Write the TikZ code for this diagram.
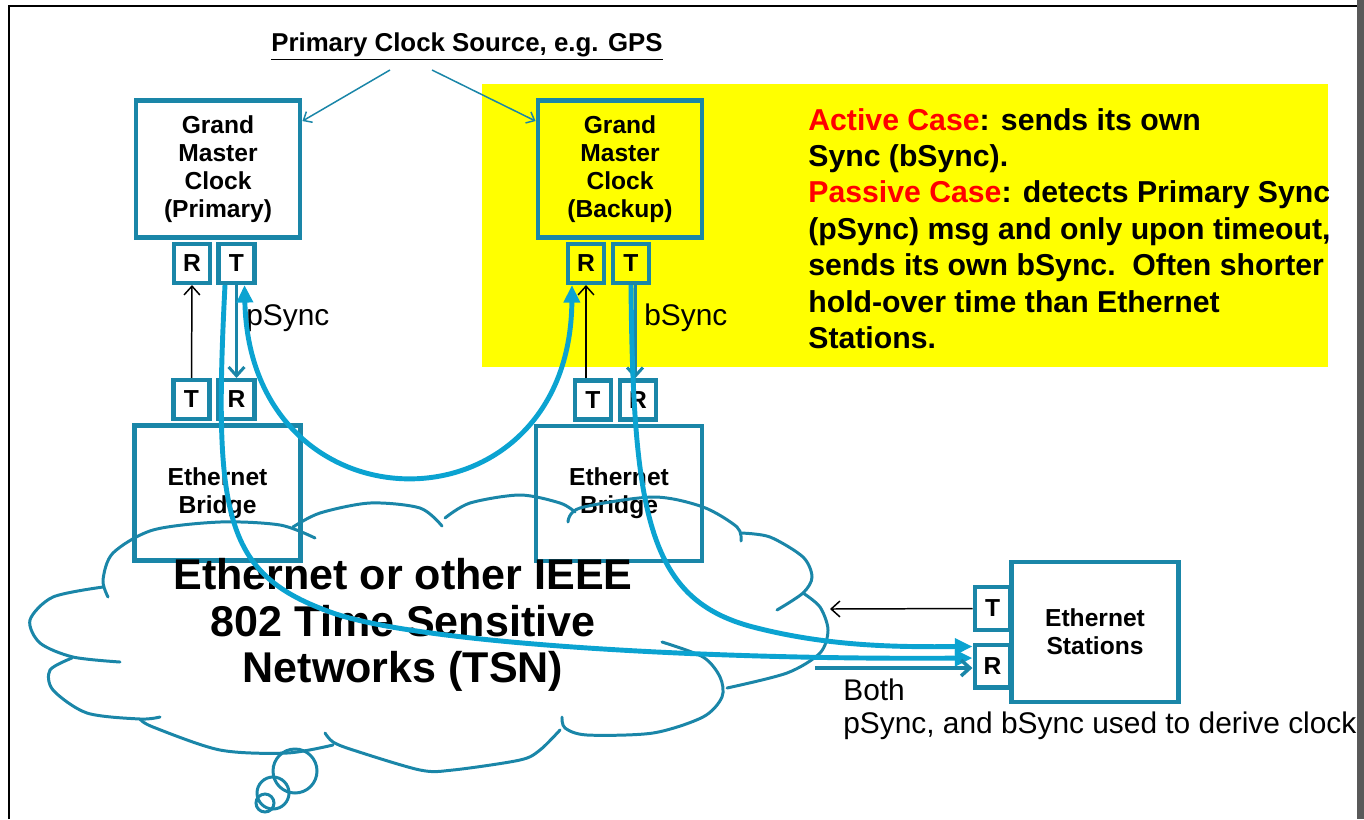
\documentclass[tikz,border=0pt]{standalone}
\usepackage{fontspec}
\setmainfont{Liberation Sans}
\usepackage{tikz}
\usetikzlibrary{arrows.meta,positioning}
\definecolor{BoxTeal}{HTML}{1A86A8}
\definecolor{SyncCyan}{HTML}{0BA3D1}
\definecolor{NoteYellow}{HTML}{FFFF00}

\tikzset{
  box/.style={draw=BoxTeal, line width=2.8pt, align=center, inner sep=0pt,
    font=\bfseries\fontsize{14}{15.8}\selectfont},
  port/.style={draw=BoxTeal, line width=2.3pt, minimum width=0.72cm, minimum height=0.78cm,
    inner sep=0pt, font=\bfseries\fontsize{14}{16}\selectfont},
  sync/.style={draw=SyncCyan, line width=2.8pt, -{Triangle[length=10pt,width=9pt]}},
  syncboth/.style={sync, {Triangle[length=10pt,width=9pt]}-{Triangle[length=10pt,width=9pt]}},
  tealarrow/.style={draw=BoxTeal, line width=1.7pt, -{Straight Barb[length=5pt,width=9pt]}},
  thinarrow/.style={draw=BoxTeal, line width=0.85pt, -{Straight Barb[length=4pt,width=7pt]}},
  blackarrow/.style={draw=black, line width=0.85pt, -{Straight Barb[length=5pt,width=9pt]}},
  cloudline/.style={draw=BoxTeal, line width=1.7pt, line cap=round},
}

\begin{document}
\begin{tikzpicture}[x=0.02cm, y=-0.02cm]
  \useasboundingbox (0,0) rectangle (1364,819);
  % frame
  \draw[line width=1.1pt] (9,819) -- (9,6) -- (1357,6);
  \fill[black!65] (1357,0) rectangle (1364,819);

  % backup note area
  \fill[NoteYellow] (482,84) rectangle (1328,367);
  \node[anchor=north west, align=left, inner sep=0pt, font=\bfseries\fontsize{17.2}{20.7}\selectfont] (note) at (808,108)
    {\textcolor{red}{Active Case}: sends its own\\Sync (bSync).\\\textcolor{red}{Passive Case}: detects Primary Sync\\(pSync) msg and only upon timeout,\\sends its own bSync.\ \ Often shorter\\hold-over time than Ethernet\\Stations.};

  \node[inner sep=0pt, font=\bfseries\fontsize{14.7}{17}\selectfont] (source) at (467,47) {\underline{Primary Clock Source, e.g. GPS}};

  % clocks and bridges
  \node[box, minimum width=3.28cm, minimum height=2.74cm] (gmp) at (218,169) {Grand\\Master\\Clock\\(Primary)};
  \node[box, minimum width=3.28cm, minimum height=2.74cm] (gmb) at (620,169) {Grand\\Master\\Clock\\(Backup)};
  \node[box, minimum width=3.32cm, minimum height=2.7cm] (bridgel) at (217.5,493) {Ethernet\\Bridge};
  \node[box, minimum width=3.32cm, minimum height=2.7cm] (bridger) at (619,493.5) {Ethernet\\Bridge};
  \node[box, minimum width=3.34cm, minimum height=2.8cm] (station) at (1095,632) {Ethernet\\Stations};

  % ports
  \node[port] (gmpR) at (192,263.5) {R};
  \node[port] (gmpT) at (236.5,263.5) {T};
  \node[port] (gmbR) at (586,263.5) {R};
  \node[port] (gmbT) at (631,263.5) {T};
  \node[port] (bridgelT) at (191.5,399.5) {T};
  \node[port] (bridgelR) at (236.5,399.5) {R};
  \node[port] (bridgerT) at (593,400) {T};
  \node[port] (bridgerR) at (638,400) {R};
  \node[port, minimum height=0.86cm] (stationT) at (992.5,608.5) {T};
  \node[port, minimum height=0.86cm] (stationR) at (992.5,666) {R};

  % cloud
  \draw[cloudline] plot[smooth] coordinates {(108,597) (103,580) (113,553) (153,530) (220,522) (280,525) (315,538)};
  \draw[cloudline] plot[smooth] coordinates {(293,527) (320,513) (370,503) (420,508) (442,526)};
  \draw[cloudline] plot[smooth] coordinates {(445,518) (470,503) (520,495) (560,503) (575,512)};
  \draw[cloudline] plot[smooth] coordinates {(568,522) (580,508) (653,497) (703,507) (737,527) (741,541)};
  \draw[cloudline] plot[smooth] coordinates {(741,533) (770,537) (803,557) (812,577) (803,593) (777,610)};
  \draw[cloudline] plot[smooth] coordinates {(803,593) (820,607) (828,630) (820,653) (787,673) (727,688)};
  \draw[cloudline] plot[smooth] coordinates {(662,642) (703,657) (720,677) (722,697) (703,717) (653,733) (587,735) (565,728) (562,717)};
  \draw[cloudline] plot[smooth] coordinates {(560,730) (540,750) (520,760) (453,770) (420,770) (353,750) (333,742) (325,733)};
  \draw[cloudline] plot[smooth] coordinates {(333,745) (287,753) (220,750) (153,727) (140,719)};
  \draw[cloudline] plot[smooth] coordinates {(160,717) (140,719) (87,713) (53,690) (50,670) (72,658)};
  \draw[cloudline] plot[smooth] coordinates {(120,662) (73,657) (40,643) (30,620) (53,597) (103,587)};
  \draw[cloudline] (295,771) circle (22);
  \draw[cloudline] (273,793) circle (16);
  \draw[cloudline] (265,803) circle (9);
  \node[align=center, font=\bfseries\fontsize{24.5}{26.6}\selectfont] (tsn) at (403,625) {Ethernet or other IEEE\\802 Time Sensitive\\Networks (TSN)};

  % source to clocks
  \draw[thinarrow] ([shift={(-77,23)}]source.center) -- ([yshift=-0.46cm]gmp.north east);
  \draw[thinarrow] ([shift={(-35,23)}]source.center) -- ([yshift=-0.46cm]gmb.north west);

  % links
  \draw[blackarrow] (bridgelT.north) -- (gmpR.south);
  \draw[blackarrow] (gmbR.south |- bridgerT.north) -- (gmbR.south);
  \draw[tealarrow] (gmpT.south) -- (bridgelR.north);
  \draw[tealarrow] ([xshift=0.08cm]gmbT.south) -- ([xshift=0.08cm]gmbT.south |- bridgerR.north);
  \node[anchor=west, inner sep=0pt, font=\fontsize{17}{19}\selectfont] (plabel) at (246,318) {pSync};
  \node[anchor=west, inner sep=0pt, font=\fontsize{17}{19}\selectfont] (blabel) at (644,318) {bSync};

  \coordinate (cloudedge) at (830,609);
  \draw[blackarrow] (stationT.west) -- (cloudedge);

  % sync paths
  \draw[syncboth] ([xshift=0.16cm]gmpT.south) .. controls (250,538) and (570,538) .. ([xshift=-0.28cm]gmbR.south);
  \draw[sync] ([xshift=-0.23cm]gmpT.south) .. controls (213,520) and (225,575) .. (333,613)
    .. controls (419,643) and (700,660) .. ([yshift=0.16cm]stationR.west);
  \draw[sync] (gmbT.south) .. controls (633,520) and (650,600) .. (753,627)
    .. controls (830,647) and (900,647) .. ([yshift=-0.08cm]stationR.north west);

  \coordinate (bothstart) at (815,668);
  \draw[draw=BoxTeal, line width=2pt, -{Straight Barb[length=5pt,width=9pt]}] (bothstart) -- (bothstart -| stationR.west);
  \node[anchor=north west, align=left, inner sep=0pt, font=\fontsize{17}{19.3}\selectfont] (bothlabel) at (843,678)
    {Both\\pSync, and bSync used to derive clock};
\end{tikzpicture}
\end{document}
